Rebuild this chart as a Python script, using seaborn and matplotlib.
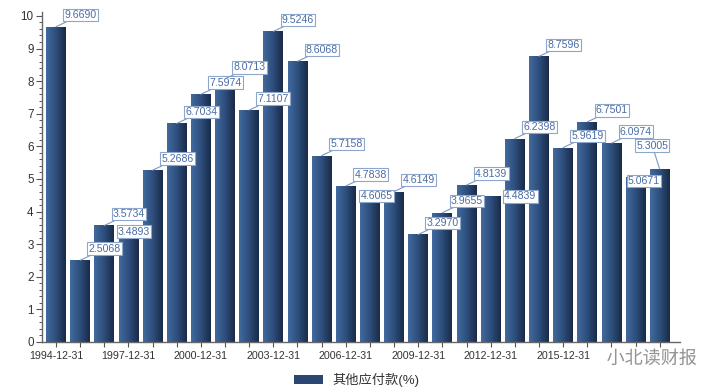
import numpy as np
import pandas as pd
import matplotlib
matplotlib.use("Agg")
import matplotlib.pyplot as plt
import seaborn as sns
from matplotlib.colors import LinearSegmentedColormap
from matplotlib.patches import Patch
from matplotlib.ticker import MultipleLocator
import matplotlib.patheffects as pe

dates = ["1994-12-31", "1995-12-31", "1996-12-31", "1997-12-31", "1998-12-31",
         "1999-12-31", "2000-12-31", "2001-12-31", "2002-12-31", "2003-12-31",
         "2004-12-31", "2005-12-31", "2006-12-31", "2007-12-31", "2008-12-31",
         "2009-12-31", "2010-12-31", "2011-12-31", "2012-12-31", "2013-12-31",
         "2014-12-31", "2015-12-31", "2016-12-31", "2017-12-31", "2018-12-31",
         "2019-12-31"]
values = [9.6690, 2.5068, 3.5734, 3.4893, 5.2686, 6.7034, 7.5974, 8.0713, 7.1107,
          9.5246, 8.6068, 5.7158, 4.7838, 4.6065, 4.6149, 3.2970, 3.9655, 4.8139,
          4.4839, 6.2398, 8.7596, 5.9619, 6.7501, 6.0974, 5.0671, 5.3005]
series_name = "其他应付款(%)"
# labelled every third year; the 2018 label is hidden under the watermark in the reference
tick_labels = [d if (i % 3 == 0 and i <= 21) else "" for i, d in enumerate(dates)]
watermark = "小北读财报"

# label placement (pixel offsets of text from bar top, draw leader line?)
default_offset = (8.5, 6.5, True)
special_offsets = {
    3: (-10.5, -8.5, False),
    13: (-9.5, -9.0, False),
    18: (13.5, -5.5, False),
    24: (-7.5, -9.0, False),
    25: (-23.5, 18.5, True),
}

sns.set_theme(style="white")
plt.rcParams["font.family"] = ["Liberation Sans", "Noto Sans CJK SC", "DejaVu Sans"]

df = pd.DataFrame({"date": dates, "value": values})

fig = plt.figure(figsize=(7.2, 3.91), dpi=100)
ax = fig.add_axes([42 / 720, 1 - 342 / 391, (680 - 42) / 720, (342 - 12) / 391])

sns.barplot(data=df, x="date", y="value", ax=ax, color="#2b4670",
            width=0.82, saturation=1, order=dates)

cmap = LinearSegmentedColormap.from_list("bar", ["#416a9e", "#2e4e7c", "#1a2b47"])
grad = np.linspace(0, 1, 64).reshape(1, -1)
for bar in list(ax.patches):
    x0, y0 = bar.get_x(), bar.get_y()
    w, h = bar.get_width(), bar.get_height()
    im = ax.imshow(grad, cmap=cmap, extent=[x0, x0 + w, y0, y0 + h],
                   aspect="auto", zorder=2, interpolation="bicubic")
    im.set_clip_path(bar)

ax.set_xlim(-0.58, 25.84)
ax.set_ylim(0, 10.12)
ax.set_xlabel("")
ax.set_ylabel("")

ax.yaxis.set_major_locator(MultipleLocator(1))
ax.yaxis.set_minor_locator(MultipleLocator(0.2))
ax.tick_params(axis="y", which="major", left=True, length=4, width=0.8,
               direction="out", color="#555555", labelsize=8.4, pad=2,
               labelcolor="#333333")
ax.tick_params(axis="y", which="minor", left=True, length=2, width=0.7,
               direction="out", color="#555555")
ax.set_xticks(range(len(dates)))
ax.set_xticklabels(tick_labels)
ax.tick_params(axis="x", which="major", bottom=True, length=3.5, width=0.8,
               direction="out", color="#555555", labelsize=7.7, pad=3,
               labelcolor="#333333")

for side in ["top", "right"]:
    ax.spines[side].set_visible(False)
for side in ["left", "bottom"]:
    ax.spines[side].set_color("#666666")
    ax.spines[side].set_linewidth(1.0)

for i, v in enumerate(values):
    dx, dy, line = special_offsets.get(i, default_offset)
    ax.annotate(f"{v:.4f}", xy=(i, v), xytext=(dx * 0.72, dy * 0.72),
                textcoords="offset points", ha="left", va="bottom",
                fontsize=7.6, color="#4a6ca3", zorder=6,
                bbox=dict(boxstyle="square,pad=0.12", fc="white",
                          ec="#8ea6cc", lw=0.8),
                arrowprops=(dict(arrowstyle="-", color="#7f98c0", lw=0.8,
                                 shrinkA=0, shrinkB=0) if line else None))

fig.legend(handles=[Patch(facecolor="#2b4670", edgecolor="none")],
           labels=[series_name], loc="center", bbox_to_anchor=(0.495, 0.028),
           frameon=False, fontsize=9.5, handlelength=2.2, handleheight=0.6,
           handletextpad=0.7, labelcolor="#333333")

fig.text(0.905, 0.082, watermark, ha="center", va="center", fontsize=13,
         color="#8a8a8a", alpha=0.9,
         path_effects=[pe.withStroke(linewidth=3, foreground="white")])

fig.savefig("out.png", dpi=100)
